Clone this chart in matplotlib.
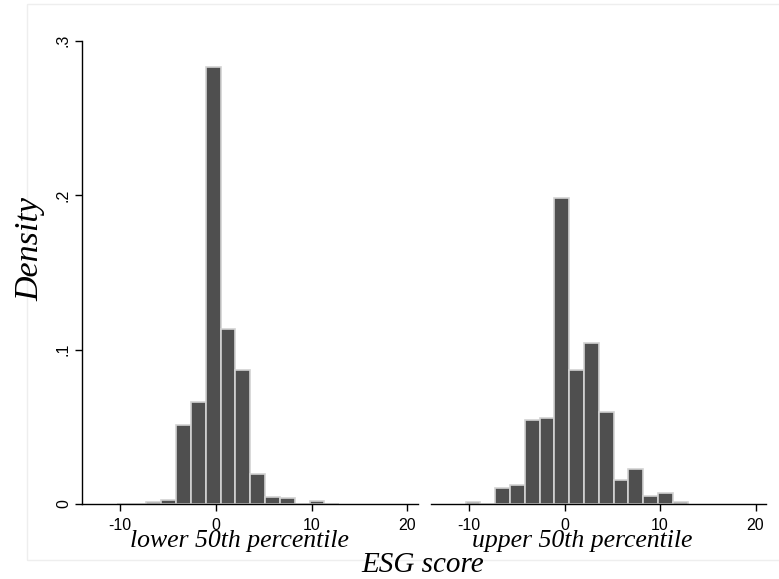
import matplotlib
matplotlib.use("Agg")
import matplotlib.pyplot as plt
from matplotlib.patches import Rectangle
import numpy as np

# common bin edges (width ~1.55)
bin_start = -10.37
bin_width = 1.55
n_bins = 15
edges = bin_start + bin_width * np.arange(n_bins + 1)

lower_density = [0, 0, 0.0015, 0.0026, 0.051, 0.066, 0.283, 0.113, 0.087,
                 0.0195, 0.0043, 0.0037, 0, 0.0017, 0]
upper_density = [0.001, 0, 0.0105, 0.012, 0.0545, 0.0558, 0.198, 0.0865, 0.1045,
                 0.0595, 0.0154, 0.0229, 0.0051, 0.0069, 0.0011]

panels = ["lower 50th percentile", "upper 50th percentile"]
panel_x = [239, 582]  # pixel centres of the panel captions
xticks = [-10, 0, 10, 20]
yticks = [0, 0.1, 0.2, 0.3]
ytick_labels = ["0", ".1", ".2", ".3"]

bar_color = "#4f4f4f"
edge_color = "#d2d2d2"
serif = ["Liberation Serif", "DejaVu Serif"]
sans = ["Liberation Sans", "DejaVu Sans"]

fig = plt.figure(figsize=(7.79, 5.79), dpi=100)
W, H = 779, 579

# faint outer frame of the graph region
fig.patches.append(Rectangle((27 / W, 1 - 560 / H), (W - 26) / W, (560 - 4) / H,
                             transform=fig.transFigure, fill=False,
                             edgecolor="#eeeeee", linewidth=1))

ax_bottom = 1 - 504 / H
ax_height = (504 - 40.7) / H
ax1 = fig.add_axes([82 / W, ax_bottom, 336 / W, ax_height])
ax2 = fig.add_axes([431 / W, ax_bottom, 335 / W, ax_height])

for ax, dens, name, px in zip([ax1, ax2], [lower_density, upper_density], panels, panel_x):
    ax.bar(edges[:-1], dens, width=bin_width, align="edge",
           color=bar_color, edgecolor=edge_color, linewidth=1.2, clip_on=False)
    ax.set_xlim(-14.0, 21.1)
    ax.set_ylim(0, 0.3)
    ax.set_xticks(xticks)
    ax.set_xticklabels([str(t) for t in xticks], fontfamily=sans, fontsize=11.5)
    ax.tick_params(axis="x", length=5, width=1, pad=5)
    for s in ["top", "right"]:
        ax.spines[s].set_visible(False)
    ax.spines["bottom"].set_linewidth(1)
    fig.text(px / W, 1 - 547 / H, name, ha="center", va="baseline",
             fontfamily=serif, fontstyle="italic", fontsize=18.5)

ax1.set_yticks(yticks)
ax1.set_yticklabels(ytick_labels, fontfamily=sans, fontsize=11.5,
                    rotation=90, va="center")
ax1.tick_params(axis="y", length=5, width=1, pad=3)
ax1.spines["left"].set_linewidth(1)

ax2.spines["left"].set_visible(False)
ax2.set_yticks([])

fig.text(423 / W, 1 - 572 / H, "ESG score", ha="center", va="baseline",
         fontfamily=serif, fontstyle="italic", fontsize=21)
fig.text(30 / W, 1 - 249 / H, "Density", ha="center", va="center", rotation=90,
         fontfamily=serif, fontstyle="italic", fontsize=24.5)

fig.savefig("out.png", dpi=100, facecolor="white")
